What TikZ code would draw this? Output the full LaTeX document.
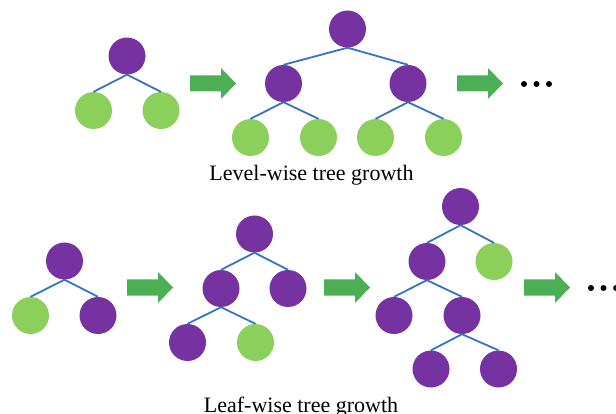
\documentclass[tikz,border=0pt]{standalone}
\usepackage{fontspec}
\setmainfont{Liberation Serif}
\definecolor{nodepurple}{HTML}{7632A0}
\definecolor{leafgreen}{HTML}{8BD05A}
\definecolor{arrowgreen}{HTML}{4DAF53}
\definecolor{edgeblue}{HTML}{3474C4}
\begin{document}
\begin{tikzpicture}[x=1pt,y=-1pt,
  inner/.style={circle,fill=nodepurple,minimum size=37,inner sep=0},
  leaf/.style={circle,fill=leafgreen,minimum size=37,inner sep=0},
  edge/.style={draw=edgeblue,line width=1.8pt},
  caption/.style={anchor=base,font=\fontsize{22}{26}\selectfont},
  fatarrow/.pic={\fill[arrowgreen] (0,-8) -- (31,-8) -- (31,-15.5) -- (46,0) -- (31,15.5) -- (31,8) -- (0,8) -- cycle;},
  ellipsisdots/.pic={\foreach \dx in {0,12.5,25} \fill (\dx,0) circle[radius=3];}]
\useasboundingbox (0,0) rectangle (616,414);

% ---- level-wise growth ----
\node[inner] (a0) at (127,56) {};
\node[leaf] (a1) at (93.5,110.5) {};
\node[leaf] (a2) at (161,110.5) {};
\draw[edge] (a0.south) -- (a1.north) (a0.south) -- (a2.north);

\pic at (190,83.5) {fatarrow};

\node[inner] (b0) at (347.5,29) {};
\node[inner] (b1) at (283.5,83.5) {};
\node[inner] (b2) at (408,83.5) {};
\node[leaf] (b3) at (250.5,137.5) {};
\node[leaf] (b4) at (318.5,137.5) {};
\node[leaf] (b5) at (375.5,137.5) {};
\node[leaf] (b6) at (443.5,137.5) {};
\draw[edge] (b0.south) -- (b1.north) (b0.south) -- (b2.north)
            (b1.south) -- (b3.north) (b1.south) -- (b4.north)
            (b2.south) -- (b5.north) (b2.south) -- (b6.north);

\pic at (457,83.5) {fatarrow};
\pic at (524,84) {ellipsisdots};

\node[caption] (lvl) at (311.5,181) {Level-wise tree growth};

% ---- leaf-wise growth ----
\node[inner] (c0) at (64.5,261) {};
\node[leaf] (c1) at (30.5,315.5) {};
\node[inner] (c2) at (98,315.5) {};
\draw[edge] (c0.south) -- (c1.north) (c0.south) -- (c2.north);

\pic at (127,287.5) {fatarrow};

\node[inner] (d0) at (254.5,234) {};
\node[inner] (d1) at (221,288.5) {};
\node[inner] (d2) at (288,288.5) {};
\node[inner] (d3) at (187.5,342.5) {};
\node[leaf] (d4) at (255.5,342.5) {};
\draw[edge] (d0.south) -- (d1.north) (d0.south) -- (d2.north)
            (d1.south) -- (d3.north) (d1.south) -- (d4.north);

\pic at (324,287.5) {fatarrow};

\node[inner] (e0) at (460.5,206.5) {};
\node[inner] (e1) at (427,261.5) {};
\node[leaf] (e2) at (494,261.5) {};
\node[inner] (e3) at (394,315.5) {};
\node[inner] (e4) at (462,315.5) {};
\node[inner] (e5) at (431,369) {};
\node[inner] (e6) at (498.5,369) {};
\draw[edge] (e0.south) -- (e1.north) (e0.south) -- (e2.north)
            (e1.south) -- (e3.north) (e1.south) -- (e4.north)
            (e4.south) -- (e5.north) (e4.south) -- (e6.north);

\pic at (524,287.5) {fatarrow};
\pic at (591,288) {ellipsisdots};

\node[caption] (lfw) at (301,412.5) {Leaf-wise tree growth};
\end{tikzpicture}
\end{document}
